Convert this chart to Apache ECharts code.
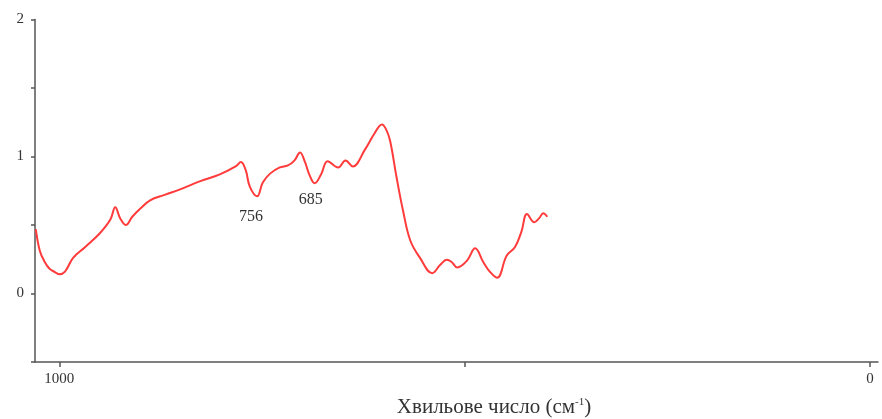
<!DOCTYPE html>
<html>
<head>
<meta charset="utf-8">
<script src="https://cdn.jsdelivr.net/npm/echarts@6/dist/echarts.min.js"></script>
<style>
  html, body { margin: 0; padding: 0; background: #fff; }
  #chart { width: 882px; height: 419px; }
</style>
</head>
<body>
<div id="chart"></div>
<script>
// IR spectrum: wavenumber (cm^-1) against intensity
const wavenumbers = [
  1029, 1024, 1018, 1012, 1005, 1000, 993, 983, 968, 950, 937, 931, 925, 918,
  910, 900, 888, 870, 851, 826, 802, 782, 776, 770, 765, 756, 749, 740, 728,
  718, 710, 703, 697, 691, 685, 677, 669, 656, 647, 638, 623, 611, 602, 597,
  592, 584, 576, 567, 555, 540, 530, 522, 516, 509, 497, 487, 477, 469, 460,
  448, 438, 430, 423, 414, 408, 403, 398
];
const intensities = [
  0.47, 0.31, 0.23, 0.18, 0.155, 0.14, 0.16, 0.26, 0.34, 0.44, 0.54, 0.63, 0.55, 0.50,
  0.56, 0.62, 0.68, 0.72, 0.76, 0.82, 0.87, 0.93, 0.96, 0.90, 0.78, 0.71, 0.81, 0.875, 0.92,
  0.935, 0.97, 1.03, 0.96, 0.86, 0.805, 0.87, 0.966, 0.92, 0.97, 0.927, 1.05, 1.17, 1.234, 1.2,
  1.117, 0.85, 0.606, 0.387, 0.26, 0.148, 0.21, 0.246, 0.23, 0.19, 0.24, 0.33, 0.23, 0.16, 0.115,
  0.277, 0.338, 0.45, 0.58, 0.52, 0.55, 0.586, 0.56
];
const xTicks = [0, 500, 1000];
const xTickLabels = ['0', '', '1000'];
const peakLabels = ['756', '685'];
const peakLabelOffsets = [[-6, 8], [-4, 4]];

const serif = '"Liberation Serif", "DejaVu Serif", serif';
const axisGrey = '#555';

const seriesData = wavenumbers.map((w, i) => [w, intensities[i]]);
const peakPoints = peakLabels.map((p, k) => {
  const idx = wavenumbers.indexOf(Number(p));
  return {
    coord: [wavenumbers[idx], intensities[idx]],
    value: p,
    label: { offset: peakLabelOffsets[k] }
  };
});

const chart = echarts.init(document.getElementById('chart'), null, { renderer: 'canvas' });
chart.setOption({
  animation: false,
  backgroundColor: '#fff',
  grid: { left: 35, right: 4, top: 19.5, bottom: 57, containLabel: false },
  xAxis: {
    type: 'value',
    inverse: true,
    min: -10,
    max: 1030,
    position: 'bottom',
    axisLine: { onZero: false, lineStyle: { color: axisGrey, width: 1.5 } },
    axisTick: { show: true, customValues: xTicks, length: 5, lineStyle: { color: axisGrey, width: 1.5 } },
    axisLabel: {
      customValues: xTicks,
      formatter: v => xTickLabels[xTicks.indexOf(v)] || '',
      color: '#333',
      fontFamily: serif,
      fontSize: 15,
      margin: 10
    },
    splitLine: { show: false }
  },
  yAxis: {
    type: 'value',
    min: -0.5,
    max: 2,
    interval: 0.5,
    position: 'left',
    axisLine: { show: true, onZero: false, lineStyle: { color: axisGrey, width: 1.5 } },
    axisTick: { show: true, length: 4, lineStyle: { color: axisGrey, width: 1.5 } },
    axisLabel: {
      formatter: v => (Number.isInteger(v) ? String(v) : ''),
      color: '#333',
      fontFamily: serif,
      fontSize: 15,
      margin: 11
    },
    splitLine: { show: false }
  },
  graphic: [{
    type: 'text',
    x: 494,
    y: 407,
    style: {
      text: '{a|Хвильове число (см}{s|-1}{a|)}',
      align: 'center',
      verticalAlign: 'middle',
      rich: {
        a: { fontFamily: serif, fontSize: 21, fill: '#333' },
        s: { fontFamily: serif, fontSize: 11, fill: '#333', verticalAlign: 'top', padding: [0, 0, 10, 0] }
      }
    }
  }],
  series: [{
    type: 'line',
    data: seriesData,
    smooth: 0.4,
    showSymbol: false,
    lineStyle: { color: '#ff3b3b', width: 2 },
    markPoint: {
      symbol: 'circle',
      symbolSize: 0,
      data: peakPoints,
      label: {
        show: true,
        formatter: p => p.value,
        position: 'bottom',
        color: '#333',
        fontFamily: serif,
        fontSize: 16
      }
    }
  }]
});
</script>
</body>
</html>
